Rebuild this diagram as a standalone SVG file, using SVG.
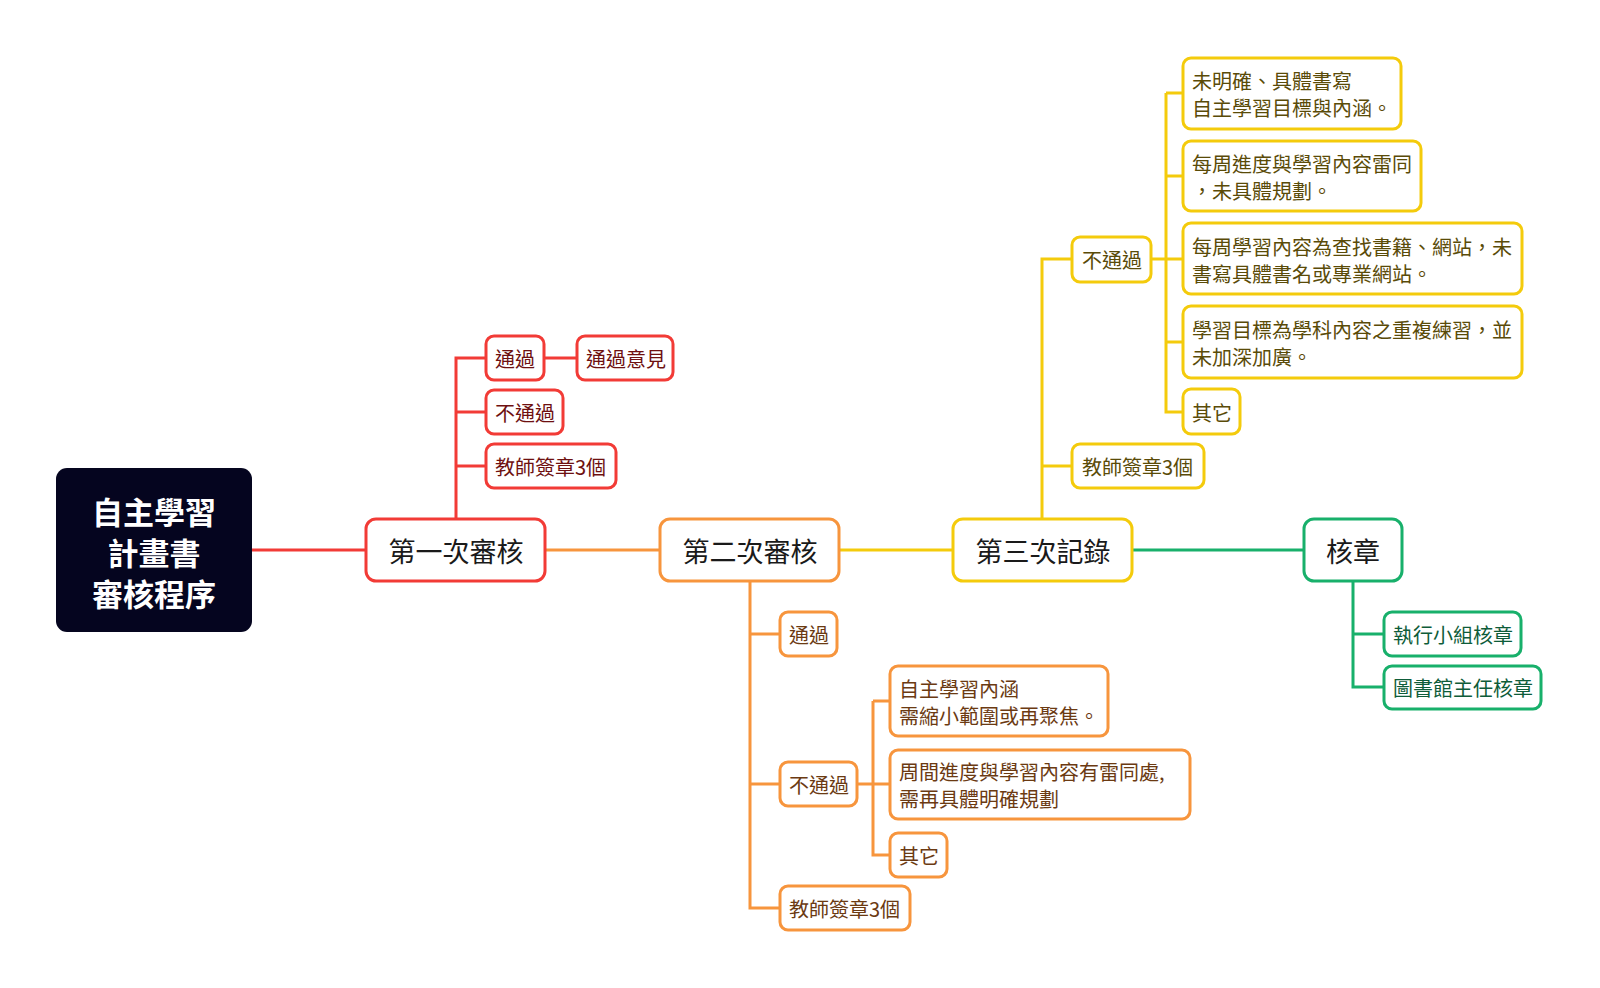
<svg xmlns="http://www.w3.org/2000/svg" width="1600" height="988" viewBox="0 0 1600 988">
<style>
text{font-family:"Noto Sans CJK TC","Noto Sans CJK SC",sans-serif;dominant-baseline:central}
.box{fill:#fff;stroke-width:3}
.main{font-size:27px;fill:#1a1a1a;text-anchor:middle}
.sub{font-size:20px}
.r{stroke:#f23b36}.o{stroke:#f7953d}.y{stroke:#f4cb0c}.g{stroke:#18b06b}
.rt{fill:#6e1010}.ot{fill:#6b3a12}.yt{fill:#5a4b08}.gt{fill:#0e5c39}
.c{fill:none;stroke-width:3}
</style>
<rect width="1600" height="988" fill="#fff"/>
<g id="connectors">
<path class="c r" d="M252 550H366"/>
<path class="c o" d="M545 550H660"/>
<path class="c y" d="M839 550H953"/>
<path class="c g" d="M1132 550H1304"/>
<path class="c r" d="M456 519V358H486M544 358H577M456 412H486M456 466H486"/>
<path class="c o" d="M750 581V908H780M750 634H780M750 784H780M857 784H873M873 701V855H890M873 701H890M873 784H890"/>
<path class="c y" d="M1042 519V259H1072M1042 466H1072M1151 259H1166M1166 93V412H1183M1166 93H1183M1166 176H1183M1166 259H1183M1166 342H1183"/>
<path class="c g" d="M1353 581V687H1384M1353 634H1384"/>
</g>
<g id="root"><rect x="56" y="468" width="196" height="164" rx="11" fill="#05051f"/>
<text x="154" y="510" font-size="31" font-weight="bold" fill="#fff" text-anchor="middle">自主學習</text>
<text x="154" y="551" font-size="31" font-weight="bold" fill="#fff" text-anchor="middle">計畫書</text>
<text x="154" y="592" font-size="31" font-weight="bold" fill="#fff" text-anchor="middle">審核程序</text></g>
<g id="n1"><rect class="box r" x="366" y="519" width="179" height="62" rx="10"/><text class="main" x="456" y="550">第一次審核</text></g>
<g id="n2"><rect class="box o" x="660" y="519" width="179" height="62" rx="10"/><text class="main" x="750" y="550">第二次審核</text></g>
<g id="n3"><rect class="box y" x="953" y="519" width="179" height="62" rx="10"/><text class="main" x="1043" y="550">第三次記錄</text></g>
<g id="n4"><rect class="box g" x="1304" y="519" width="98" height="62" rx="10"/><text class="main" x="1353" y="550">核章</text></g>

<g id="r1"><rect class="box r" x="486" y="336" width="58" height="44" rx="8"/><text class="sub rt" x="495" y="358">通過</text></g>
<g id="r2"><rect class="box r" x="577" y="336" width="96" height="44" rx="8"/><text class="sub rt" x="586" y="358">通過意見</text></g>
<g id="r3"><rect class="box r" x="486" y="390" width="77" height="44" rx="8"/><text class="sub rt" x="495" y="412">不通過</text></g>
<g id="r4"><rect class="box r" x="486" y="444" width="130" height="44" rx="8"/><text class="sub rt" x="495" y="466">教師簽章3個</text></g>

<g id="o1"><rect class="box o" x="780" y="612" width="57" height="44" rx="8"/><text class="sub ot" x="789" y="634">通過</text></g>
<g id="o2"><rect class="box o" x="780" y="762" width="77" height="44" rx="8"/><text class="sub ot" x="789" y="784">不通過</text></g>
<g id="o3"><rect class="box o" x="780" y="886" width="130" height="44" rx="8"/><text class="sub ot" x="789" y="908">教師簽章3個</text></g>
<g id="o4"><rect class="box o" x="890" y="666" width="218" height="70" rx="8"/><text class="sub ot" x="899" y="688">自主學習內涵</text><text class="sub ot" x="899" y="715">需縮小範圍或再聚焦。</text></g>
<g id="o5"><rect class="box o" x="890" y="750" width="300" height="69" rx="8"/><text class="sub ot" x="899" y="771">周間進度與學習內容有雷同處,</text><text class="sub ot" x="899" y="798">需再具體明確規劃</text></g>
<g id="o6"><rect class="box o" x="890" y="833" width="57" height="44" rx="8"/><text class="sub ot" x="899" y="855">其它</text></g>

<g id="y1"><rect class="box y" x="1072" y="237" width="79" height="45" rx="8"/><text class="sub yt" x="1082" y="259">不通過</text></g>
<g id="y2"><rect class="box y" x="1072" y="444" width="132" height="44" rx="8"/><text class="sub yt" x="1082" y="466">教師簽章3個</text></g>
<g id="y3"><rect class="box y" x="1183" y="58" width="218" height="71" rx="8"/><text class="sub yt" x="1192" y="80">未明確、具體書寫</text><text class="sub yt" x="1192" y="107">自主學習目標與內涵。</text></g>
<g id="y4"><rect class="box y" x="1183" y="141" width="238" height="70" rx="8"/><text class="sub yt" x="1192" y="163">每周進度與學習內容雷同</text><text class="sub yt" x="1192" y="190">，未具體規劃。</text></g>
<g id="y5"><rect class="box y" x="1183" y="223" width="339" height="71" rx="8"/><text class="sub yt" x="1192" y="246">每周學習內容為查找書籍、網站，未</text><text class="sub yt" x="1192" y="273">書寫具體書名或專業網站。</text></g>
<g id="y6"><rect class="box y" x="1183" y="306" width="339" height="72" rx="8"/><text class="sub yt" x="1192" y="329">學習目標為學科內容之重複練習，並</text><text class="sub yt" x="1192" y="356">未加深加廣。</text></g>
<g id="y7"><rect class="box y" x="1183" y="389" width="57" height="45" rx="8"/><text class="sub yt" x="1192" y="412">其它</text></g>

<g id="g1"><rect class="box g" x="1384" y="612" width="137" height="44" rx="8"/><text class="sub gt" x="1393" y="634">執行小組核章</text></g>
<g id="g2"><rect class="box g" x="1384" y="666" width="157" height="43" rx="8"/><text class="sub gt" x="1393" y="687">圖書館主任核章</text></g>
</svg>
